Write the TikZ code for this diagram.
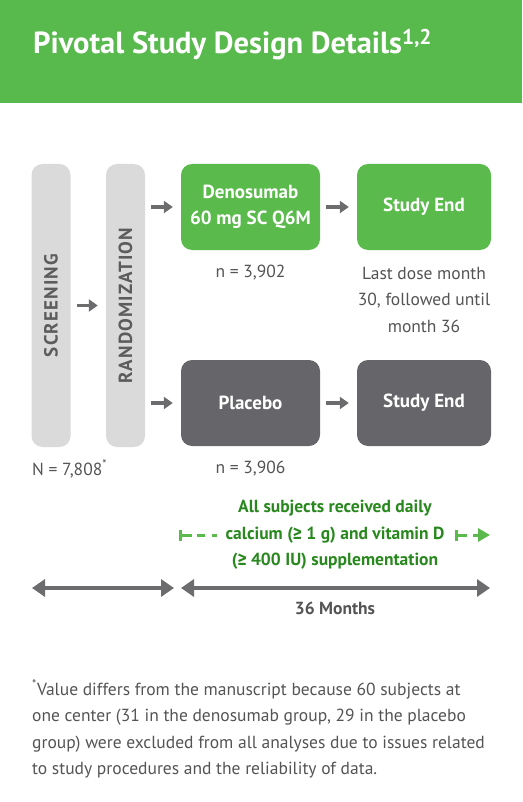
\documentclass[tikz,border=0pt]{standalone}
\usepackage{fontspec}
\setmainfont{PT Sans}
\newfontfamily\symfont{Fira Sans}
\newfontfamily\barfont{PT Sans}[LetterSpace=6]
\usetikzlibrary{arrows.meta,positioning}

\definecolor{hdrgreen}{RGB}{88,185,76}
\definecolor{boxgreen}{RGB}{90,186,76}
\definecolor{txtgreen}{RGB}{40,136,30}
\definecolor{boxgray}{RGB}{102,102,106}
\definecolor{bargray}{RGB}{218,218,218}
\definecolor{bartext}{RGB}{92,92,92}
\definecolor{bodytext}{RGB}{84,84,84}
\definecolor{arrowgray}{RGB}{108,108,110}

\newcommand{\atleast}{{\symfont\bfseries ≥}}

\tikzset{
  phasebar/.style={fill=bargray, rounded corners=11, rotate=90, minimum width=283,
    minimum height=39, inner sep=0, text=bartext,
    font=\barfont\fontsize{19}{20}\selectfont\bfseries},
  armbox/.style={rounded corners=11, minimum height=86, inner sep=0, align=center,
    text=white, font=\fontsize{19}{26}\selectfont\bfseries},
  greenbox/.style={armbox, fill=boxgreen},
  graybox/.style={armbox, fill=boxgray},
  note/.style={inner sep=0, align=center, text=bodytext, font=\fontsize{17.5}{26.5}\selectfont},
  steparrow/.style={draw=arrowgray, line width=3.5, -{Triangle[length=9,width=12]},
    shorten <=6, shorten >=8},
  spanarrow/.style={draw=arrowgray, line width=4,
    {Triangle[length=13,width=17]}-{Triangle[length=13,width=17]}},
  suppline/.style={draw=boxgreen, line width=3},
}

\begin{document}
\begin{tikzpicture}[x=1pt, y=-1pt]
  \useasboundingbox (0,0) rectangle (522,802);

  % header band
  \fill[hdrgreen] (0,0) rectangle (522,103);
  \node[anchor=base west, inner sep=0, text=white, font=\fontsize{30.5}{32}\selectfont\bfseries]
    (title) at (33,53.5) {Pivotal Study Design Details\textsuperscript{1,2}};

  % screening / randomization bars
  \node[phasebar] (screen) at (51,305.5) {SCREENING};
  \node[phasebar] (rand) at (125.5,305.5) {RANDOMIZATION};

  % treatment arms
  \node[greenbox, minimum width=139] (dmab) at (250.5,207) {Denosumab\\60 mg SC Q6M};
  \node[greenbox, minimum width=134] (endA) at (424,207) {Study End};
  \node[graybox, minimum width=139] (plac) at (250.5,403) {Placebo};
  \node[graybox, minimum width=134] (endB) at (424,403) {Study End};

  \draw[steparrow] (screen) -- (rand);
  \draw[steparrow] (rand.south |- dmab.west) -- (dmab.west);
  \draw[steparrow] (rand.south |- plac.west) -- (plac.west);
  \draw[steparrow] (dmab) -- (endA);
  \draw[steparrow] (plac) -- (endB);

  % counts
  \node[note] (nA) at (250.5,273) {n = 3,902};
  \node[note] (nB) at (250.5,469) {n = 3,906};
  \node[note, anchor=west] (nAll) at (32,469) {N = 7,808\textsuperscript{*}};
  \node[note] (lastdose) at (424,299.5) {Last dose month\\30, followed until\\month 36};

  % supplementation
  \node[inner sep=0, align=center, text=txtgreen, font=\fontsize{17.5}{26.5}\selectfont\bfseries]
    (supp) at (335,535) {All subjects received daily\\calcium (\atleast{} 1 g) and vitamin D\\(\atleast{} 400 IU) supplementation};
  \coordinate (sL) at (180.5,535);
  \coordinate (sR) at (456,535);
  \draw[suppline] ([yshift=5.5]sL) -- ([yshift=-5.5]sL);
  \draw[suppline] (sL) -- ++(11.5,0);
  \draw[suppline] ([xshift=16]sL) -- ++(8,0);
  \draw[suppline] ([xshift=31.5]sL) -- ++(5,0);
  \draw[suppline] ([yshift=5.5]sR) -- ([yshift=-5.5]sR);
  \draw[suppline] (sR) -- ++(11,0);
  \draw[suppline, -{Triangle[length=12,width=13]}] ([xshift=17]sR) -- ++(17,0);

  % time spans
  \coordinate (t0) at (32,588);
  \coordinate (t1) at (174,588);
  \coordinate (t2) at (181,588);
  \coordinate (t3) at (490,588);
  \draw[spanarrow] (t0) -- (t1);
  \draw[spanarrow] (t2) -- (t3);
  \node[inner sep=0, text=bodytext, font=\fontsize{17.5}{20}\selectfont\bfseries]
    (months) at (335,608) {36 Months};

  % footnote
  \node[note, anchor=north west, align=left] (foot) at (32,680)
    {\textsuperscript{*}Value differs from the manuscript because 60 subjects at\\
     one center (31 in the denosumab group, 29 in the placebo\\
     group) were excluded from all analyses due to issues related\\
     to study procedures and the reliability of data.};
\end{tikzpicture}
\end{document}
